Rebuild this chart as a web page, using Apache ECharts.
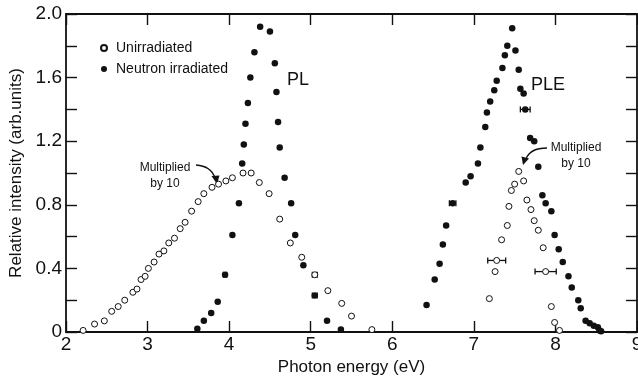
<!DOCTYPE html>
<html>
<head>
<meta charset="utf-8">
<script src="https://cdn.jsdelivr.net/npm/echarts@6/dist/echarts.min.js"></script>
<style>
  html, body { margin: 0; padding: 0; background: #fff; }
  #chart { width: 638px; height: 379px; }
</style>
</head>
<body>
<div id="chart"></div>
<script>
// photon energy (eV), relative intensity (arb. units)
const plUnirradiated = [
  [2.21, 0.01], [2.35, 0.05], [2.47, 0.07], [2.56, 0.13], [2.64, 0.16], [2.72, 0.20],
  [2.82, 0.25], [2.87, 0.27], [2.92, 0.33], [2.97, 0.35], [3.01, 0.40], [3.08, 0.44],
  [3.14, 0.49], [3.20, 0.51], [3.26, 0.56], [3.33, 0.59], [3.40, 0.65], [3.46, 0.69],
  [3.54, 0.76], [3.62, 0.82], [3.69, 0.87], [3.79, 0.91], [3.87, 0.93], [3.96, 0.95],
  [4.04, 0.97], [4.17, 1.00], [4.27, 1.00], [4.37, 0.94], [4.49, 0.87], [4.62, 0.71],
  [4.75, 0.56], [4.89, 0.47], [5.05, 0.36], [5.21, 0.26], [5.38, 0.18], [5.50, 0.10],
  [5.75, 0.015]
];
const plIrradiated = [
  [3.61, 0.02], [3.69, 0.07], [3.78, 0.12], [3.86, 0.19], [3.95, 0.36], [4.04, 0.61],
  [4.12, 0.81], [4.16, 1.06], [4.18, 1.18], [4.20, 1.31], [4.23, 1.44], [4.26, 1.60],
  [4.31, 1.76], [4.38, 1.92], [4.50, 1.89], [4.56, 1.69], [4.58, 1.51], [4.60, 1.32],
  [4.62, 1.16], [4.68, 0.97], [4.76, 0.81], [4.81, 0.61], [4.91, 0.42], [5.05, 0.23],
  [5.20, 0.07], [5.37, 0.015]
];
const pleUnirradiated = [
  [7.19, 0.21], [7.26, 0.38], [7.28, 0.45], [7.34, 0.58], [7.41, 0.67], [7.43, 0.79],
  [7.46, 0.89], [7.50, 0.93], [7.55, 1.01], [7.61, 0.95], [7.65, 0.83], [7.70, 0.77],
  [7.74, 0.70], [7.79, 0.64], [7.85, 0.53], [7.88, 0.38], [7.95, 0.16], [7.99, 0.06],
  [8.05, 0.01]
];
const pleIrradiated = [
  [6.42, 0.17], [6.52, 0.33], [6.58, 0.43], [6.62, 0.55], [6.66, 0.67], [6.74, 0.81],
  [6.90, 0.94], [6.96, 0.98], [7.05, 1.06], [7.08, 1.16], [7.14, 1.29], [7.16, 1.38],
  [7.20, 1.45], [7.25, 1.52], [7.28, 1.58], [7.35, 1.66], [7.38, 1.74], [7.41, 1.80],
  [7.47, 1.91], [7.51, 1.77], [7.55, 1.65], [7.57, 1.53], [7.61, 1.50], [7.63, 1.40],
  [7.69, 1.22], [7.74, 1.20], [7.79, 1.04], [7.84, 0.86], [7.88, 0.81], [7.95, 0.76],
  [7.99, 0.61], [8.04, 0.52], [8.09, 0.44], [8.16, 0.35], [8.20, 0.28], [8.28, 0.20],
  [8.31, 0.15], [8.37, 0.07], [8.42, 0.055], [8.47, 0.04], [8.52, 0.03], [8.54, 0.01],
  [8.56, 0.005]
];
// [energy, intensity, half width in eV]
const errorBars = [
  [3.95, 0.36, 0.02], [5.05, 0.36, 0.03], [5.05, 0.23, 0.03], [6.74, 0.81, 0.04],
  [7.63, 1.40, 0.06], [7.28, 0.45, 0.11], [7.88, 0.38, 0.13]
];
const yTickLabels = ['0', '0.4', '0.8', '1.2', '1.6', '2.0'];

const FONT = '"Liberation Sans", Arial, sans-serif';
const INK = '#111';

const chart = echarts.init(document.getElementById('chart'));

const frameAxis = {
  axisLine: { show: true, onZero: false, lineStyle: { color: INK, width: 1.8 } },
  axisTick: { show: true, inside: true, length: 11, lineStyle: { color: INK, width: 1.4 } },
  splitLine: { show: false }
};

function yLabel(v) {
  const s = v === 0 ? '0' : v.toFixed(1);
  return yTickLabels.includes(s) ? s : '';
}

function renderErrorBar(params, api) {
  const x = api.value(0), y = api.value(1), e = api.value(2);
  const l = api.coord([x - e, y]);
  const r = api.coord([x + e, y]);
  const st = { stroke: INK, lineWidth: 1.3 };
  return {
    type: 'group',
    children: [
      { type: 'line', shape: { x1: l[0], y1: l[1], x2: r[0], y2: r[1] }, style: st },
      { type: 'line', shape: { x1: l[0], y1: l[1] - 3, x2: l[0], y2: l[1] + 3 }, style: st },
      { type: 'line', shape: { x1: r[0], y1: r[1] - 3, x2: r[0], y2: r[1] + 3 }, style: st }
    ]
  };
}

const openStyle = { color: '#fff', borderColor: INK, borderWidth: 1, opacity: 1 };
const fillStyle = { color: INK, opacity: 1 };

chart.setOption({
  animation: false,
  backgroundColor: '#fff',
  textStyle: { fontFamily: FONT, color: INK },
  grid: { left: 66, right: 1, top: 14, bottom: 47, containLabel: false, outerBoundsMode: 'none' },
  legend: {
    data: [
      { name: 'Unirradiated', icon: 'circle' },
      { name: 'Neutron irradiated', icon: 'circle' }
    ],
    orient: 'vertical',
    left: 95,
    top: 36,
    itemWidth: 6,
    itemHeight: 6,
    itemGap: 7,
    textStyle: { fontSize: 14, color: INK, fontFamily: FONT, lineHeight: 14, padding: [0, 0, 0, 4] }
  },
  xAxis: [
    Object.assign({}, frameAxis, {
      type: 'value', min: 2, max: 9, interval: 1,
      name: 'Photon energy (eV)', nameLocation: 'middle', nameGap: 21,
      nameTextStyle: { fontSize: 17, color: INK, fontFamily: FONT },
      axisLabel: { fontSize: 19, color: INK, margin: 3, fontFamily: FONT }
    }),
    Object.assign({}, frameAxis, {
      type: 'value', min: 2, max: 9, interval: 1, position: 'top',
      axisLabel: { show: false }
    })
  ],
  yAxis: [
    Object.assign({}, frameAxis, {
      type: 'value', min: 0, max: 2, interval: 0.2,
      name: 'Relative intensity (arb.units)', nameLocation: 'middle', nameGap: 39,
      nameTextStyle: { fontSize: 17, color: INK, fontFamily: FONT },
      axisLabel: { fontSize: 19, color: INK, margin: 4, fontFamily: FONT, formatter: yLabel }
    }),
    Object.assign({}, frameAxis, {
      type: 'value', min: 0, max: 2, interval: 0.2, position: 'right',
      axisLabel: { show: false }
    })
  ],
  series: [
    { name: 'Unirradiated', type: 'scatter', data: plUnirradiated, symbol: 'circle', symbolSize: 6, itemStyle: openStyle, z: 3 },
    { name: 'Unirradiated', type: 'scatter', data: pleUnirradiated, symbol: 'circle', symbolSize: 6, itemStyle: openStyle, z: 3 },
    { name: 'Neutron irradiated', type: 'scatter', data: plIrradiated, symbol: 'circle', symbolSize: 6.5, itemStyle: fillStyle, z: 3 },
    { name: 'Neutron irradiated', type: 'scatter', data: pleIrradiated, symbol: 'circle', symbolSize: 6.5, itemStyle: fillStyle, z: 3 },
    { type: 'custom', data: errorBars, renderItem: renderErrorBar, encode: { x: 0, y: 1 }, z: 2, silent: true }
  ],
  graphic: [
    { type: 'text', left: 287, top: 71, style: { text: 'PL', font: '18px ' + FONT, fill: INK } },
    { type: 'text', left: 531, top: 76, style: { text: 'PLE', font: '18px ' + FONT, fill: INK } },
    { type: 'text', x: 165, y: 160, style: { text: 'Multiplied\nby 10', font: '12px ' + FONT, fill: INK, align: 'center', lineHeight: 16 } },
    { type: 'text', x: 576, y: 140, style: { text: 'Multiplied\nby 10', font: '12px ' + FONT, fill: INK, align: 'center', lineHeight: 16 } },
    { type: 'bezierCurve', shape: { x1: 196, y1: 165, cpx1: 211, cpy1: 166, x2: 215, y2: 178 }, style: { stroke: INK, lineWidth: 1.3, fill: null } },
    { type: 'polygon', shape: { points: [[217, 184], [211.5, 176], [219.5, 175.5]] }, style: { fill: INK } },
    { type: 'bezierCurve', shape: { x1: 547, y1: 148, cpx1: 530, cpy1: 148, x2: 526, y2: 159 }, style: { stroke: INK, lineWidth: 1.3, fill: null } },
    { type: 'polygon', shape: { points: [[523, 165], [521.5, 156.5], [529, 158.5]] }, style: { fill: INK } }
  ]
});
</script>
</body>
</html>
